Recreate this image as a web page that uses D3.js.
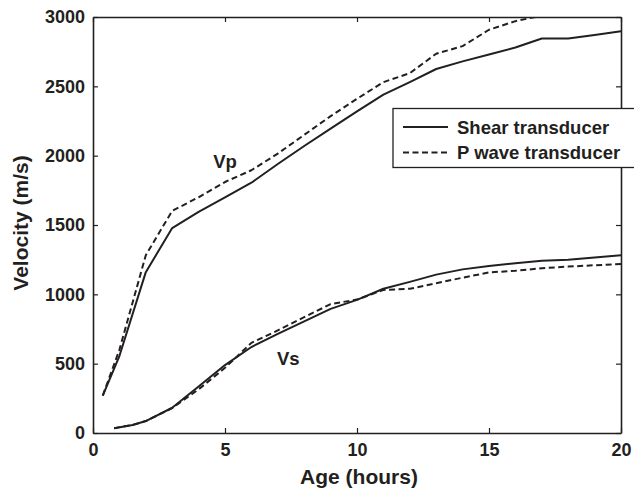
<!DOCTYPE html>
<html>
<head>
<meta charset="utf-8">
<script src="https://cdn.jsdelivr.net/npm/d3@7"></script>
<style>
  html, body { margin: 0; padding: 0; background: #fff; }
  svg { display: block; }
  text { font-family: "Liberation Sans", Arial, Helvetica, sans-serif; font-weight: bold; fill: #231f20; }
</style>
</head>
<body>
<svg id="chart" width="634" height="488"></svg>
<script>
// Compressional (Vp) and shear (Vs) velocity vs. age, from two transducer types
const vpHours = [0.37, 1, 2, 3, 4, 5, 6, 7, 8, 9, 10, 11, 12, 13, 14, 15, 16, 17, 18, 19, 20];
const vpShear = [270, 555, 1160, 1478, 1595, 1700, 1805, 1940, 2070, 2195, 2320, 2440, 2530, 2625, 2680, 2730, 2780, 2845, 2845, 2870, 2898];
const vpPwave = [270, 600, 1282, 1602, 1700, 1810, 1895, 2015, 2150, 2285, 2410, 2530, 2595, 2735, 2790, 2908, 2970, 3010, 3040, 3070, 3100];

const vsHours = [0.8, 1.5, 2, 3, 4, 5, 6, 7, 8, 9, 10, 11, 12, 13, 14, 15, 16, 17, 18, 19, 20];
const vsShear = [35, 58, 86, 182, 335, 490, 620, 715, 805, 895, 960, 1040, 1090, 1142, 1180, 1205, 1225, 1242, 1250, 1265, 1282];
const vsPwave = [35, 58, 86, 180, 315, 470, 650, 740, 835, 930, 962, 1032, 1040, 1080, 1120, 1158, 1170, 1188, 1200, 1210, 1218];

const xTicks = [0, 5, 10, 15, 20];
const yTicks = [0, 500, 1000, 1500, 2000, 2500, 3000];
const legendLabels = ["Shear transducer", "P wave transducer"];
const curveLabels = [{ text: "Vp", x: 5, y: 1960 }, { text: "Vs", x: 7.4, y: 540 }];

const ink = "#231f20";
const margin = { left: 93, right: 13, top: 17, bottom: 55 };
const W = 634, H = 488;
const svg = d3.select("#chart");

const x = d3.scaleLinear().domain([0, 20]).range([margin.left, W - margin.right]);
const y = d3.scaleLinear().domain([0, 3000]).range([H - margin.bottom, margin.top]);

svg.append("defs").append("clipPath").attr("id", "plot")
  .append("rect")
  .attr("x", x(0)).attr("y", y(3000))
  .attr("width", x(20) - x(0)).attr("height", y(0) - y(3000));

// Axes on all four sides, ticks pointing inward
const tickLen = 5;
const plain = d3.format("d");
const axisBottomG = svg.append("g").attr("transform", `translate(0,${y(0)})`)
  .call(d3.axisBottom(x).tickValues(xTicks).tickFormat(plain).tickSizeInner(-tickLen).tickSizeOuter(0).tickPadding(9));
const axisTopG = svg.append("g").attr("transform", `translate(0,${y(3000)})`)
  .call(d3.axisTop(x).tickValues(xTicks).tickSizeInner(-tickLen).tickSizeOuter(0).tickFormat(""));
const axisLeftG = svg.append("g").attr("transform", `translate(${x(0)},0)`)
  .call(d3.axisLeft(y).tickValues(yTicks).tickFormat(plain).tickSizeInner(-tickLen).tickSizeOuter(0).tickPadding(8));
const axisRightG = svg.append("g").attr("transform", `translate(${x(20)},0)`)
  .call(d3.axisRight(y).tickValues(yTicks).tickSizeInner(-tickLen).tickSizeOuter(0).tickFormat(""));

[axisBottomG, axisTopG, axisLeftG, axisRightG].forEach(g => {
  g.select(".domain").attr("stroke", ink).attr("stroke-width", 1.6);
  g.selectAll(".tick line").attr("stroke", ink).attr("stroke-width", 1.2);
  g.selectAll(".tick text").attr("font-size", 18).attr("fill", ink)
    .attr("font-family", "'Liberation Sans', Arial, sans-serif").attr("font-weight", "bold");
});
axisBottomG.selectAll(".tick text").attr("dy", "0.75em");

// Data curves
const line = d3.line().x(d => x(d[0])).y(d => y(d[1]));
const plot = svg.append("g").attr("clip-path", "url(#plot)");
const series = [
  { hours: vpHours, values: vpShear, dash: null },
  { hours: vpHours, values: vpPwave, dash: "6,3.5" },
  { hours: vsHours, values: vsShear, dash: null },
  { hours: vsHours, values: vsPwave, dash: "6,3.5" }
];
series.forEach(s => {
  plot.append("path")
    .datum(s.hours.map((h, i) => [h, s.values[i]]))
    .attr("d", line)
    .attr("fill", "none")
    .attr("stroke", ink)
    .attr("stroke-width", 2)
    .attr("stroke-linejoin", "round")
    .attr("stroke-dasharray", s.dash);
});

// Curve annotations
svg.selectAll("text.curve").data(curveLabels).join("text")
  .attr("class", "curve")
  .attr("x", d => x(d.x)).attr("y", d => y(d.y))
  .attr("text-anchor", "middle").attr("dominant-baseline", "central")
  .attr("font-size", 18.5)
  .text(d => d.text);

// Axis titles
svg.append("text")
  .attr("x", (x(0) + x(20)) / 2 + 2).attr("y", 484)
  .attr("text-anchor", "middle").attr("font-size", 21)
  .text("Age (hours)");
svg.append("text")
  .attr("transform", `translate(28,${(y(0) + y(3000)) / 2 - 2}) rotate(-90)`)
  .attr("text-anchor", "middle").attr("font-size", 21)
  .text("Velocity (m/s)");

// Legend
const legend = svg.append("g");
legend.append("rect")
  .attr("x", 393).attr("y", 108.5).attr("width", 250).attr("height", 59)
  .attr("fill", "#fff").attr("stroke", ink).attr("stroke-width", 1.3);
legendLabels.forEach((label, i) => {
  const ly = 127 + i * 25.5;
  legend.append("line")
    .attr("x1", 403).attr("x2", 448).attr("y1", ly).attr("y2", ly)
    .attr("stroke", ink).attr("stroke-width", 2)
    .attr("stroke-dasharray", i === 1 ? "6,3.5" : null);
  legend.append("text")
    .attr("x", 457).attr("y", ly).attr("dominant-baseline", "central")
    .attr("font-size", 18.5)
    .text(label);
});
</script>
</body>
</html>
